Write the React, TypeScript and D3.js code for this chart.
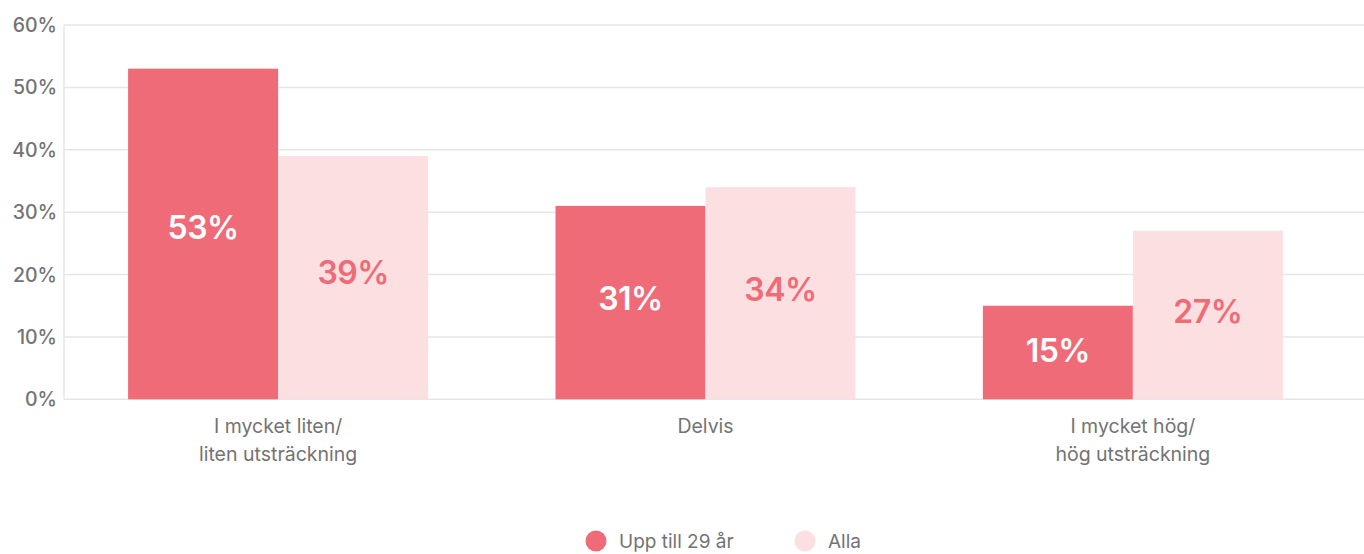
import React, { useRef, useEffect } from "react";
import * as d3 from "d3";

const categories = [
  ["I mycket liten/", "liten utsträckning"],
  ["Delvis"],
  ["I mycket hög/", "hög utsträckning"],
];
const seriesNames = ["Upp till 29 år", "Alla"];
const young = [53, 31, 15];
const all = [39, 34, 27];
const yTicks = [0, 10, 20, 30, 40, 50, 60];

const colors = ["#ee6b77", "#fcdfe1"];
const labelColors = ["#ffffff", "#ee6b77"];

function App() {
  const ref = useRef<SVGSVGElement>(null);

  useEffect(() => {
    const width = 1364;
    const height = 554;
    const margin = { top: 25, right: 0, bottom: 155, left: 64 };
    const font = "Inter, 'Noto Sans', sans-serif";

    const svg = d3.select(ref.current).attr("width", width).attr("height", height);
    svg.selectAll("*").remove();

    const x0 = d3
      .scaleBand<number>()
      .domain(categories.map((_, i) => i))
      .range([margin.left, 1347])
      .paddingInner(0.298)
      .paddingOuter(0.15);
    const x1 = d3
      .scaleBand<number>()
      .domain([0, 1])
      .range([0, x0.bandwidth()]);
    const y = d3
      .scaleLinear()
      .domain([0, 60])
      .range([399.3, 25]);

    // grid
    svg
      .append("g")
      .selectAll("line")
      .data(yTicks)
      .join("line")
      .attr("x1", margin.left)
      .attr("x2", width)
      .attr("y1", (d) => y(d))
      .attr("y2", (d) => y(d))
      .attr("stroke", "#e6e6e6")
      .attr("stroke-width", 1.5);

    svg
      .append("line")
      .attr("x1", margin.left)
      .attr("x2", margin.left)
      .attr("y1", y(60))
      .attr("y2", y(0))
      .attr("stroke", "#e6e6e6")
      .attr("stroke-width", 1.5);

    // y tick labels
    svg
      .append("g")
      .selectAll("text")
      .data(yTicks)
      .join("text")
      .attr("x", 57)
      .attr("y", (d) => y(d))
      .attr("dy", "0.36em")
      .attr("text-anchor", "end")
      .attr("font-family", font)
      .attr("font-size", 19.5)
      .attr("font-weight", 500)
      .attr("fill", "#737373")
      .text((d) => `${d}%`);

    const series = [young, all];

    const groups = svg
      .append("g")
      .selectAll("g")
      .data(categories.map((_, i) => i))
      .join("g")
      .attr("transform", (i) => `translate(${x0(i)},0)`);

    groups
      .selectAll("rect")
      .data((i) => series.map((s, k) => ({ k, v: s[i] })))
      .join("rect")
      .attr("x", (d) => x1(d.k)!)
      .attr("y", (d) => y(d.v))
      .attr("width", x1.bandwidth())
      .attr("height", (d) => y(0) - y(d.v))
      .attr("fill", (d) => colors[d.k]);

    groups
      .selectAll("text")
      .data((i) => series.map((s, k) => ({ k, v: s[i] })))
      .join("text")
      .attr("x", (d) => x1(d.k)! + x1.bandwidth() / 2)
      .attr("y", (d) => y(d.v * 0.52))
      .attr("dy", "0.36em")
      .attr("text-anchor", "middle")
      .attr("font-family", font)
      .attr("font-size", 32)
      .attr("font-weight", 600)
      .attr("letter-spacing", "-0.5px")
      .attr("fill", (d) => labelColors[d.k])
      .text((d) => `${d.v}%`);

    // x labels
    const xl = svg
      .append("g")
      .selectAll("text")
      .data(categories)
      .join("text")
      .attr("x", (_, i) => x0(i)! + x0.bandwidth() / 2)
      .attr("y", 433)
      .attr("text-anchor", "middle")
      .attr("font-family", font)
      .attr("font-size", 19.5)
      .attr("fill", "#737373");
    xl.selectAll("tspan")
      .data((d) => d)
      .join("tspan")
      .attr("x", function () {
        return (this.parentNode as SVGTextElement).getAttribute("x");
      })
      .attr("dy", (_, j) => (j === 0 ? 0 : 28))
      .text((d) => d);

    // legend
    const legendX = [596, 805];
    const lg = svg
      .append("g")
      .selectAll("g")
      .data(seriesNames)
      .join("g")
      .attr("transform", (_, i) => `translate(${legendX[i]},541)`);
    lg.append("circle").attr("r", 10.5).attr("fill", (_, i) => colors[i]);
    lg.append("text")
      .attr("x", 23)
      .attr("dy", "0.36em")
      .attr("font-family", font)
      .attr("font-size", 19)
      .attr("fill", "#737373")
      .text((d) => d);
  }, []);

  return (
    <div style={{ position: "absolute", left: 0, top: 0 }}>
      <svg ref={ref} style={{ display: "block" }} />
    </div>
  );
}

export default App;
